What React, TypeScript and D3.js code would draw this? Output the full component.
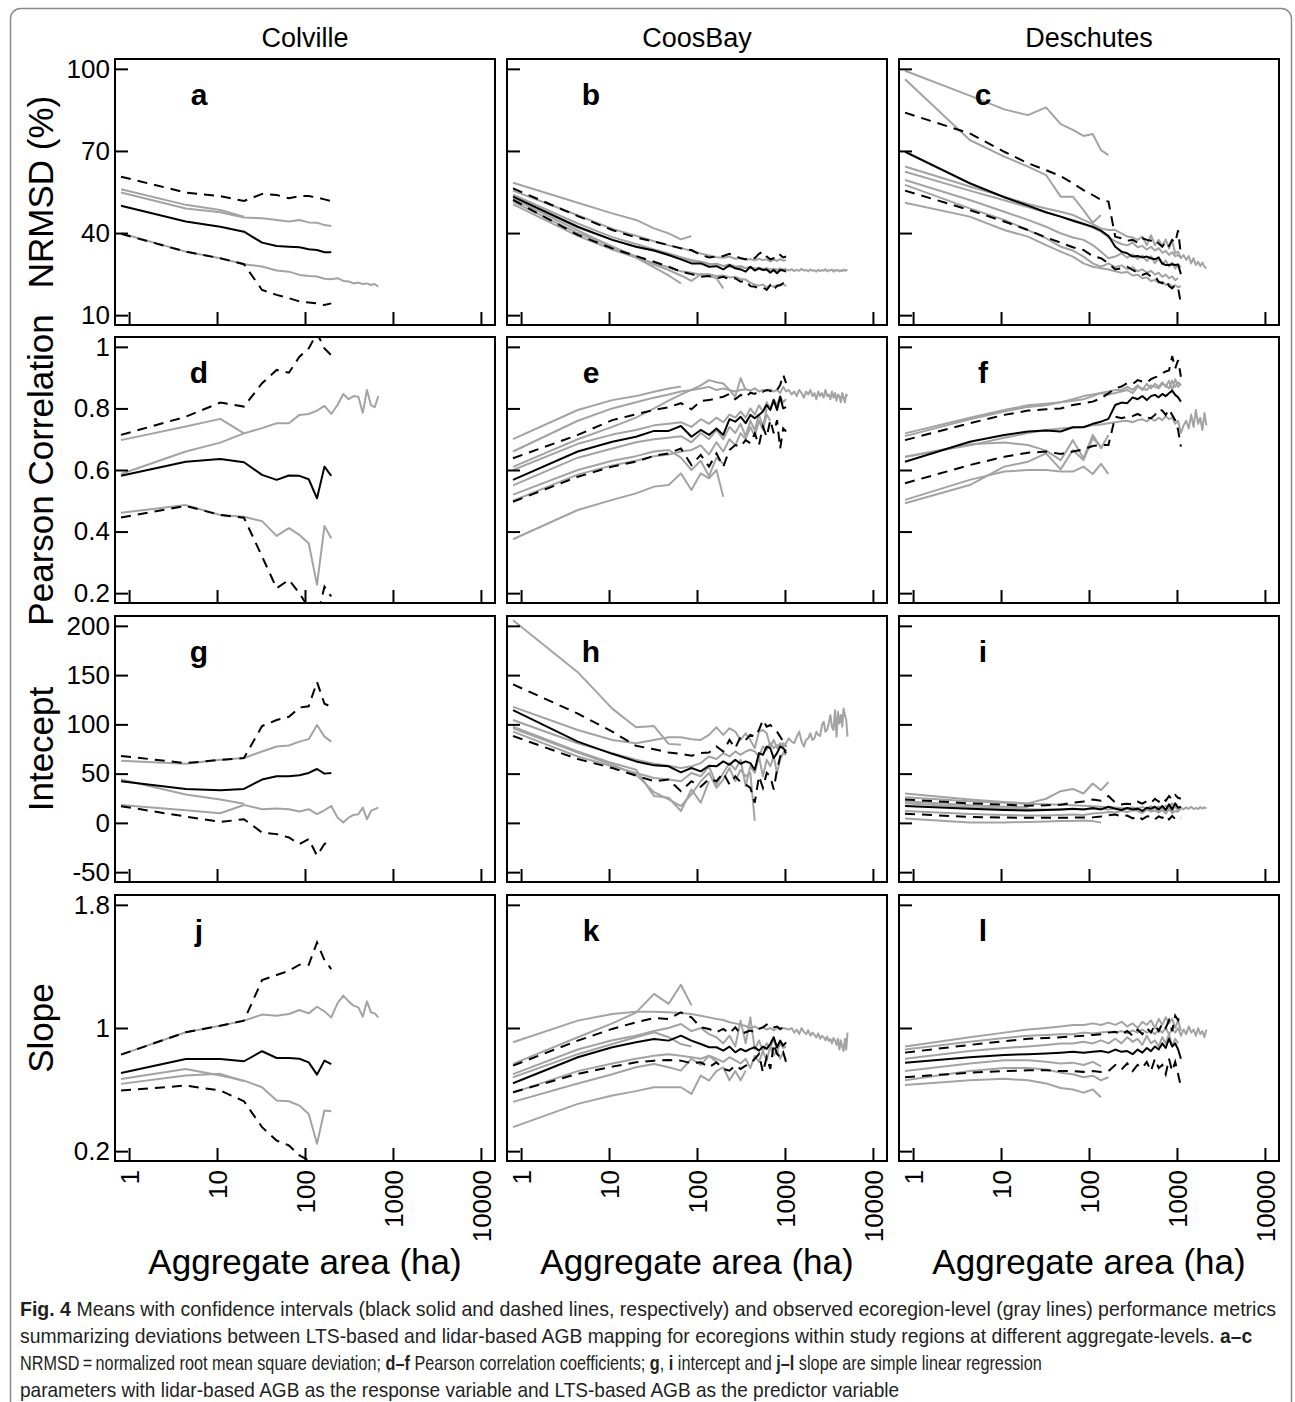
import { useEffect, useRef } from 'react';
import * as d3 from 'd3';

// aggregate areas (ha) for the window sizes 3, 7, 11, ... 239 pixels
const AREA = [0.81, 4.41, 10.89, 20.25, 32.49, 47.61, 65.61, 86.49, 110.25, 136.89, 166.41, 198.81, 234.09, 272.25, 313.29, 357.21, 404.01, 453.69, 506.25, 561.69, 620.01, 681.21, 745.29, 812.25, 882.09, 954.81, 1030.41, 1108.89, 1190.25, 1274.49, 1361.61, 1451.61, 1544.49, 1640.25, 1738.89, 1840.41, 1944.81, 2052.09, 2162.25, 2275.29, 2391.21, 2510.01, 2631.69, 2756.25, 2883.69, 3014.01, 3147.21, 3283.29, 3422.25, 3564.09, 3708.81, 3856.41, 4007.61, 4160.25, 4316.49, 4475.61, 4637.61, 4802.49, 4970.25, 5140.89];

const REGIONS = ['Colville', 'CoosBay', 'Deschutes'];
const METRICS = ['NRMSD (%)', 'Pearson Correlation', 'Intecept', 'Slope'];
const Y_TICKS = [[10, 40, 70, 100], [0.2, 0.4, 0.6, 0.8, 1], [-50, 0, 50, 100, 150, 200], [0.2, 1, 1.8]];
const X_TICKS = [1, 10, 100, 1000, 10000];
const LETTERS = ['a', 'b', 'c', 'd', 'e', 'f', 'g', 'h', 'i', 'j', 'k', 'l'];

// ---- Colville ----
const aMean = [50, 44.2, 42.3, 40.5, 36.5, 35.3, 35, 34.8, 34.1, 33.8, 33, 33];
const aUpper = [60.6, 54.8, 53.5, 51.7, 54.3, 53.9, 52.7, 53.5, 53.5, 53, 52.3, 51.7];
const aLower = [39.7, 33.2, 30.8, 28.6, 19.2, 17.4, 16.2, 15, 14.6, 14.3, 13.7, 14.3];
const aGray = [
  [56, 50.3, 48.4, 46],
  [54.8, 49, 47.6, 45.7, 45.4, 44.8, 44.2, 44.8, 43.9, 43.8, 42.9, 42.6],
  [39.9, 33.2, 30.8, 28.6, 27.8, 26.3, 25.9, 24.7, 24.3, 24.1, 23.3, 23.1, 23.5, 22.5, 22.3, 21.6, 21.9, 21.4, 21.6, 21, 21.4, 20.4],
];
const dMean = [0.581, 0.627, 0.636, 0.625, 0.584, 0.568, 0.582, 0.581, 0.57, 0.508, 0.611, 0.581];
const dUpper = [0.714, 0.773, 0.819, 0.806, 0.882, 0.925, 0.916, 0.968, 0.995, 1.044, 0.995, 0.973];
const dLower = [0.446, 0.483, 0.454, 0.445, 0.319, 0.216, 0.243, 0.2, 0.151, 0.12, 0.221, 0.189];
const dGray = [
  [0.697, 0.741, 0.766, 0.719],
  [0.461, 0.486, 0.454, 0.448, 0.434, 0.386, 0.411, 0.389, 0.362, 0.227, 0.418, 0.378],
  [0.587, 0.66, 0.689, 0.719, 0.736, 0.752, 0.752, 0.779, 0.782, 0.793, 0.808, 0.782, 0.811, 0.847, 0.83, 0.84, 0.838, 0.786, 0.86, 0.811, 0.804, 0.84],
];
const gMean = [42.3, 34.5, 33.2, 34.5, 44, 47.3, 47.3, 48.3, 50.7, 54.7, 50, 50.7];
const gUpper = [68, 60.7, 64, 65.8, 98.3, 104.4, 107.7, 117.1, 118.4, 143, 121, 117.8];
const gLower = [17, 6.4, 1, 3.7, -9.8, -11.4, -14.8, -21.5, -16.5, -33.2, -21.5, -17];
const gGray = [
  [44, 28.9, 23.8, 19.4],
  [63, 60, 64, 65.8, 72.5, 77.5, 78.5, 82.5, 85, 99.3, 87.6, 82.5],
  [18.2, 12.8, 9.8, 18.2, 13.9, 14.6, 13.9, 11.5, 13.9, 8.8, 12.8, 17.2, 5.4, 0.4, 5.4, 8.1, 8.8, 15.5, 3.7, 12.1, 13.9, 15.5],
];
const jMean = [0.708, 0.799, 0.799, 0.784, 0.849, 0.805, 0.805, 0.8, 0.777, 0.697, 0.788, 0.766];
const jUpper = [0.827, 0.972, 1.015, 1.048, 1.311, 1.344, 1.372, 1.411, 1.411, 1.556, 1.441, 1.383];
const jLower = [0.594, 0.626, 0.594, 0.524, 0.356, 0.269, 0.237, 0.172, 0.14, 0.1];
const jGray = [
  [0.637, 0.691, 0.702, 0.654],
  [0.669, 0.734, 0.691, 0.658, 0.615, 0.529, 0.524, 0.496, 0.442, 0.248, 0.464, 0.459],
  [0.827, 0.972, 1.015, 1.048, 1.087, 1.08, 1.091, 1.117, 1.095, 1.138, 1.108, 1.069, 1.16, 1.21, 1.173, 1.145, 1.134, 1.074, 1.173, 1.102, 1.095, 1.069],
];

// ---- CoosBay ----
const bMean = [53.3, 42.3, 37.5, 35, 33.6, 32, 30.4, 28.9, 28.9, 27.7, 27.9, 26.7, 28.3, 27.1, 26.7, 25.9, 27.7, 26.3, 27.1, 26.5, 26.7, 25.5, 26.5, 25.3, 26.5, 26.3, 25.9];
const bUpper = [56.3, 46.2, 41.1, 38.4, 36.9, 35.6, 34.4, 33.8, 32, 31.1, 31.4, 31.6, 32.4, 31.6, 30.8, 30.4, 31.1, 30.8, 32.4, 33.2, 31.4, 30.4, 30.8, 30.4, 32, 31.1, 31.4];
const bLower = [52.1, 39.3, 34.4, 31.6, 29.5, 27.7, 25.9, 25, 24, 24.3, 23.5, 24, 23.1, 23.5, 22.2, 22.6, 20.6, 20.4, 19.8, 20.2, 19.2, 21, 19.4, 20.6, 21, 21.6, 19.8];
const bGray = [
  [58.4, 51.1, 47.2, 44.8, 41.7, 39.9, 37.7, 38.9],
  [55.5, 46.5, 41.5, 39, 37, 35.5, 34.5, 33.5, 32.5, 31.8, 31.2, 31, 31.4, 30.6, 30.9, 30.2, 30.5, 30, 30.6, 30.1, 30.4, 29.6, 30.3, 29.8, 30.5, 29.9, 30.2],
  [54, 43.5, 38.5, 36, 34, 32.5, 31.2, 30.2, 29.5, 28.8, 28.5, 28, 27.8, 27.5, 27.6, 27.1, 27.3, 26.9, 27.2, 26.7, 27, 26.6, 26.9, 26.4, 26.8, 26.5, 26.7,
    26.3, 26.8, 26.1, 26.6, 26.2, 26.9, 26.3, 26.5, 26, 26.7, 26.2, 26.4, 25.9, 26.6, 26.1, 26.5, 26.2, 26.8, 26, 26.4, 26.3, 26.7, 25.9, 26.5, 26.2, 26.6, 26, 26.4, 26.1, 26.7, 26.2, 26.5, 26.3],
  [52.5, 41, 35, 31, 27.5, 24.5, 21.6],
  [51.5, 40, 35, 31.5, 28.5, 26.5, 24.5, 22.5, 25, 24.3, 23.5, 19.8],
  [50.5, 39, 34, 31, 29, 27.5, 26, 25.5, 24.8, 25, 24.3, 24.5, 23.8, 24, 23.2, 23, 21.8, 21.2, 20.8, 21.2, 20.2, 20.8, 20.4, 21, 20.8, 21.5, 20.6],
  [53, 42, 37.5, 35, 33.5, 32, 30.6, 29.8, 29.5, 28.6, 28.8, 28, 28.5, 27.8, 28, 27.2, 27.6, 27, 27.4, 26.8, 27.2, 26.5, 27, 26.6, 27.1, 26.7, 27],
];
const eMean = [0.568, 0.66, 0.692, 0.708, 0.727, 0.727, 0.743, 0.708, 0.73, 0.714, 0.735, 0.714, 0.765, 0.757, 0.773, 0.752, 0.779, 0.768, 0.779, 0.79, 0.811, 0.795, 0.827, 0.795, 0.838, 0.8, 0.804];
const eUpper = [0.638, 0.714, 0.762, 0.781, 0.795, 0.804, 0.817, 0.797, 0.824, 0.827, 0.833, 0.838, 0.847, 0.83, 0.844, 0.836, 0.851, 0.847, 0.858, 0.854, 0.86, 0.857, 0.851, 0.86, 0.876, 0.909, 0.882];
const eLower = [0.497, 0.578, 0.611, 0.627, 0.646, 0.654, 0.67, 0.616, 0.649, 0.611, 0.654, 0.611, 0.665, 0.681, 0.676, 0.697, 0.687, 0.719, 0.681, 0.741, 0.708, 0.762, 0.719, 0.762, 0.67, 0.735, 0.725];
const eGray = [
  [0.7, 0.795, 0.827, 0.84, 0.854, 0.865, 0.871],
  [0.66, 0.76, 0.8, 0.82, 0.835, 0.845, 0.855, 0.86, 0.865, 0.87, 0.86, 0.865, 0.86, 0.855, 0.86, 0.862, 0.858, 0.865, 0.855, 0.86, 0.858, 0.862, 0.855, 0.86, 0.85, 0.87, 0.855,
    0.86, 0.845, 0.855, 0.84, 0.86, 0.85, 0.835, 0.855, 0.845, 0.86, 0.84, 0.85, 0.83, 0.855, 0.84, 0.85, 0.835, 0.86, 0.84, 0.845, 0.83, 0.855, 0.835, 0.85, 0.825, 0.845, 0.84, 0.82, 0.85, 0.835, 0.82, 0.845, 0.84],
  [0.61, 0.7, 0.74, 0.77, 0.8, 0.825, 0.845, 0.86, 0.875, 0.892, 0.885, 0.881, 0.86, 0.838, 0.898, 0.86],
  [0.6, 0.685, 0.715, 0.73, 0.745, 0.75, 0.755, 0.74, 0.765, 0.75, 0.77, 0.755, 0.78, 0.77, 0.79, 0.77, 0.8, 0.78, 0.81, 0.79, 0.82, 0.8, 0.83, 0.81, 0.84, 0.82, 0.83],
  [0.55, 0.64, 0.67, 0.69, 0.7, 0.705, 0.71, 0.69, 0.72, 0.7, 0.73, 0.7, 0.74, 0.72, 0.75, 0.71, 0.76, 0.73, 0.78, 0.74, 0.8],
  [0.52, 0.6, 0.63, 0.645, 0.66, 0.665, 0.64, 0.6, 0.63, 0.58, 0.64, 0.62],
  [0.5, 0.585, 0.615, 0.63, 0.645, 0.65, 0.66, 0.665, 0.68, 0.65, 0.69, 0.66, 0.7, 0.68, 0.72, 0.7, 0.74, 0.71, 0.76, 0.73, 0.78, 0.76],
  [0.375, 0.47, 0.503, 0.524, 0.546, 0.551, 0.589, 0.535, 0.589, 0.573, 0.6, 0.513],
];
const hMean = [114.4, 82.5, 70.1, 62.4, 58.4, 57.4, 51.3, 55.7, 52.3, 58, 57.4, 62.4, 59, 64.1, 60, 62.4, 60.7, 54, 70.8, 69.1, 77.5, 75.8, 65.8, 70.8, 77.5, 75.8, 72.5];
const hUpper = [140.6, 111, 92.6, 78.2, 74.8, 71.5, 70.1, 68.1, 70.8, 71.5, 77.5, 72.5, 84.2, 75.8, 87.6, 84.2, 89.3, 87.6, 94.3, 104.4, 97.6, 99.3, 96, 92.6, 87.6, 82.5, 77.5];
const hLower = [88.2, 64.8, 55.7, 48, 42.3, 44, 32.2, 42.3, 36.6, 44.6, 42.3, 50.7, 39, 47.3, 41.3, 39, 35.6, 20.5, 47.3, 35.6, 50.7, 47.3, 33.9, 54, 67.4, 74.2, 70.8];
const hGray = [
  [205.7, 153, 116, 97, 98.3, 80.2, 79.2],
  [117.8, 94.3, 84.2, 80.9, 84.2, 86.9, 86.9, 84.9, 84.2, 89.3, 97, 89.3, 96, 92.6, 84.2, 90.9, 84.2, 75.8, 92.6, 94.3, 90.9, 77.5, 84.2, 75.8, 80.9, 77.5, 80.9,
    85.9, 82.5, 80.9, 87.6, 92.6, 82.5, 77.5, 84.2, 85.9, 90.9, 84.2, 85.9, 92.6, 89.3, 88.2, 99.3, 102.7, 92.6, 94.3, 101, 109.4, 97.6, 94.3, 114.4, 87.6, 112.7, 101, 109.4, 97.6, 116.1, 109.4, 104.4, 87.6],
  [97.6, 72.5, 60.7, 54, 27.2, 25.5, 12.1, 33.9, 20.5, 42.3],
  [96, 71.5, 59, 49, 31.2, 23.8, 17.1, 28.9, 42.3, 50.7, 35.6, 44, 55.7, 42.3, 54, 47.3, 50.7, 2],
  [104.4, 80.9, 70.8, 64.1, 60, 58, 55.7, 57.4, 60.7, 67.4, 64.8, 70.8, 67.4, 72.5, 69.1, 72.5, 74.2, 72.5, 67.4, 77.5, 74.2, 80.9, 75.8, 79.2, 77.5, 80.9, 78.2],
  [92.6, 67.4, 57.4, 50.7, 45.6, 44, 42.3, 50.7, 47.3, 57.4, 39, 50.7, 60.7, 54, 64.1, 37.3, 57.4, 50.7, 67.4, 47.3, 64.1, 57.4, 67.4, 50.7, 64.1, 70.8, 69.1],
];
const kMean = [0.641, 0.81, 0.875, 0.907, 0.929, 0.918, 0.95, 0.918, 0.896, 0.875, 0.875, 0.853, 0.879, 0.842, 0.864, 0.849, 0.864, 0.875, 0.853, 0.879, 0.864, 0.896, 0.94, 0.875, 0.918, 0.885, 0.907];
const kUpper = [0.756, 0.918, 0.994, 1.037, 1.065, 1.058, 1.102, 1.069, 1.004, 0.994, 0.972, 0.994, 0.965, 1.004, 0.961, 0.972, 0.983, 0.972, 0.994, 1.004, 1.022, 1, 1.004, 1.009, 0.994, 1.004, 0.994];
const kLower = [0.583, 0.702, 0.749, 0.777, 0.788, 0.792, 0.788, 0.771, 0.777, 0.745, 0.777, 0.734, 0.723, 0.756, 0.734, 0.756, 0.766, 0.799, 0.831, 0.712, 0.81, 0.734, 0.896, 0.831, 0.81, 0.842, 0.777];
const kGray = [
  [0.767, 0.94, 1.03, 1.1, 1.222, 1.157, 1.281, 1.147],
  [0.907, 1.048, 1.091, 1.106, 1.106, 1.102, 1.097, 1.091, 1.08, 1.069, 1.058, 1.052, 1.037, 1.03, 1.022, 1.013, 1, 1.01, 0.995, 1.005, 0.99, 1, 0.985, 1, 0.99, 1, 0.995,
    0.99, 1, 0.97, 0.99, 0.96, 1, 0.975, 0.96, 0.985, 0.95, 0.97, 0.955, 0.94, 0.965, 0.93, 0.95, 0.94, 0.92, 0.945, 0.915, 0.93, 0.9, 0.935, 0.92, 0.89, 0.93, 0.86, 0.92, 0.88, 0.85, 0.93, 0.86, 0.97],
  [0.7, 0.86, 0.92, 0.95, 0.98, 1, 1.026, 0.98, 1, 0.96, 0.94, 0.9, 0.95, 0.88, 1.048, 0.9, 1.069, 0.86, 0.92, 0.85, 0.9, 0.87, 0.93, 0.85, 0.9, 0.87, 0.88],
  [0.68, 0.83, 0.896, 0.94, 0.972, 0.94, 0.896, 0.88],
  [0.58, 0.72, 0.77, 0.8, 0.82, 0.83, 0.82, 0.81, 0.8, 0.82, 0.8, 0.78, 0.81, 0.79, 0.77, 0.8, 0.74, 0.82, 0.78, 0.85, 0.79, 0.88, 0.82, 0.86, 0.8, 0.84, 0.79],
  [0.356, 0.507, 0.561, 0.59, 0.615, 0.615, 0.615, 0.572, 0.691, 0.658, 0.72, 0.745, 0.66, 0.72, 0.66, 0.723],
  [0.52, 0.64, 0.7, 0.745, 0.766, 0.745, 0.723, 0.8, 0.76, 0.82, 0.78],
];

// ---- Deschutes ----
const cMean = [69.7, 58.2, 53.1, 50, 47.6, 46, 44.5, 43.3, 42.3, 40.9, 38.9, 35, 33.2, 32.6, 31.4, 31.6, 31.1, 31.4, 30.8, 30.4, 31.1, 28.9, 28.3, 28.3, 28.6, 28.3, 28.5, 25];
const cUpper = [84, 76.4, 69.7, 65.5, 63, 60.8, 58.2, 55.7, 53.9, 52.1, 51.5, 38.7, 38.1, 37.2, 37.5, 36.5, 38.1, 37.5, 37.2, 37.7, 36.2, 35, 36.9, 35.3, 37.5, 36.5, 41, 32];
const cLower = [55.5, 48.4, 44.2, 41.1, 38.4, 36.5, 34.8, 33.8, 31.6, 30.8, 28.9, 26.7, 27.1, 27.7, 26.5, 25.5, 24.7, 25.3, 24.1, 24.3, 22.2, 21.6, 22.8, 20.6, 19.8, 21, 19.8, 14.3];
const cGray = [
  [99.3, 90.2, 85.2, 83.1, 85.9, 79.8, 77.7, 75.5, 76.2, 70.3, 68.5],
  [96.2, 74, 67.9, 64.3, 61.2, 53.3, 53.3, 48.4, 43.8, 46.6],
  [64.3, 57, 53.3, 50.6, 49, 47.8, 46.6, 44.8, 43.3, 41.7, 41.1, 41.1, 39.9, 38.7, 38.4, 37.5, 38.7, 35.6, 39.2, 35.6, 37.5, 35.3, 37.7, 34.4, 37.2, 32.6, 33.2, 30.8, 32, 30.2, 31.6, 28.9, 30.8, 28.3, 29.5, 27.9, 29.2, 27.7, 27.1],
  [62.4, 55.5, 52, 49.5, 47.5, 46, 44.8, 43.5, 42, 40.5, 38.5, 37, 36, 35.5, 36.5, 34.8, 35.3, 34, 35, 33.6, 34.5, 32.8, 33.5, 32, 33, 31.5, 32, 31],
  [59.4, 52.1, 47.8, 44.8, 42.3, 39.9, 38.4, 37.5, 35.6, 33.2, 30.8, 31.4, 32.6, 31, 32.2, 30.5, 31.8, 29.8, 31.5, 29, 30.6, 28.5, 30, 27.8, 29.2, 27, 28.5, 27.5],
  [57.6, 49, 44.8, 41.1, 38.1, 35, 33.6, 31.4, 28.9, 27.7, 28.9, 27.5, 28.2, 26.8, 27.5, 26, 26.8, 25.5, 26.2, 24.8, 25.5, 24, 24.8, 23.5, 24.2, 22.8, 23.5],
  [51.1, 46, 41.1, 38.7, 35.6, 33.2, 31.4, 28.9, 27.7, 27.1, 26.7, 26, 25.5, 25.8, 24.5, 24.8, 23.5, 23.8, 22.5, 22.9, 21.8, 22.2, 21, 21.5, 20.5, 21, 20.2, 20.6],
];
const fMean = [0.627, 0.692, 0.714, 0.725, 0.728, 0.725, 0.739, 0.739, 0.75, 0.757, 0.766, 0.811, 0.819, 0.817, 0.836, 0.83, 0.84, 0.827, 0.84, 0.844, 0.836, 0.847, 0.84, 0.849, 0.858, 0.844, 0.836, 0.822];
const fUpper = [0.697, 0.752, 0.779, 0.793, 0.797, 0.8, 0.811, 0.817, 0.822, 0.833, 0.849, 0.865, 0.871, 0.882, 0.879, 0.892, 0.887, 0.884, 0.895, 0.901, 0.905, 0.914, 0.92, 0.923, 0.97, 0.93, 0.957, 0.903];
const fLower = [0.557, 0.616, 0.643, 0.656, 0.66, 0.652, 0.66, 0.667, 0.678, 0.681, 0.681, 0.773, 0.768, 0.773, 0.775, 0.782, 0.775, 0.771, 0.768, 0.779, 0.797, 0.793, 0.779, 0.797, 0.779, 0.762, 0.73, 0.676];
const fGray = [
  [0.719, 0.77, 0.795, 0.81, 0.815, 0.82, 0.83, 0.84, 0.845, 0.85, 0.855, 0.86, 0.86, 0.87, 0.86, 0.875, 0.86, 0.88, 0.865, 0.88, 0.87, 0.885, 0.87, 0.89, 0.86, 0.895, 0.87, 0.88],
  [0.71, 0.765, 0.79, 0.805, 0.81, 0.82, 0.825, 0.83, 0.84, 0.85, 0.845, 0.85, 0.855, 0.86, 0.85, 0.87, 0.865, 0.86, 0.875, 0.87, 0.865, 0.88, 0.875, 0.865, 0.89, 0.87, 0.885, 0.875],
  [0.643, 0.68, 0.705, 0.72, 0.73, 0.735, 0.738, 0.74, 0.745, 0.748, 0.752, 0.755, 0.758, 0.76, 0.755, 0.762, 0.765, 0.758, 0.768, 0.76, 0.77, 0.762, 0.775, 0.765, 0.77, 0.75, 0.76, 0.72, 0.745, 0.76, 0.735, 0.78, 0.74, 0.795, 0.75, 0.77, 0.73, 0.785, 0.745],
  [0.642, 0.684, 0.689, 0.681, 0.663, 0.632, 0.697, 0.638, 0.714, 0.671, 0.714],
  [0.503, 0.568, 0.595, 0.6, 0.6, 0.595, 0.595, 0.611, 0.587, 0.62, 0.587],
  [0.492, 0.551, 0.611, 0.627, 0.654, 0.602, 0.665, 0.632, 0.703, 0.676],
];
const iMean = [17.1, 14.4, 13.1, 12.7, 13.1, 13.7, 14.4, 13.7, 15.1, 13.7, 16.4, 14.4, 13.1, 15.1, 13.7, 14.4, 12.1, 15.4, 14.4, 16.4, 13.7, 17.1, 13.1, 18.8, 13.7, 19.8, 15.4, 16.4];
const iUpper = [23.8, 19.8, 18.5, 17.5, 17.8, 18.5, 20.5, 21.8, 23.8, 22.5, 27.2, 20.5, 18.8, 19.5, 18.8, 21.5, 19.5, 22.1, 20.2, 24.5, 21.5, 25.5, 22.5, 27.2, 23.8, 28.2, 25.5, 24.5];
const iLower = [9.4, 6, 5.4, 5.2, 5.2, 5.2, 5.4, 5.4, 5.6, 6.5, 7.7, 8.5, 6.5, 7.5, 4.5, 7, 3.7, 6.5, 7, 3.7, 6.5, 5, 8, 3.5, 7, 4, 6.5, 5.4];
const iGray = [
  [29.8, 23.8, 21.1, 19.8, 24.5, 32.2, 34.5, 29.8, 40, 33.2, 41.3],
  [26, 22, 20.5, 19.5, 19, 18.5, 18, 17.5, 17, 16.5, 16, 15.5, 15, 14.8, 15.6, 14.5, 16, 14.8, 17, 15, 16.5, 14, 17.5, 15.2, 19.8, 16, 14.5, 15.5, 13.8, 15.8, 14.2, 16.5, 14, 15.2, 13.9, 16.2, 14.5, 15.8, 14.6],
  [4.4, 0.3, 0.5, 1, 1.5, 2, 2, 2.5, 1.8, 0.5],
  [20, 16, 14.5, 13.8, 13.5, 13.6, 13.8, 14, 14.2, 14.5, 13.6, 15, 13.5, 14.8, 12.5, 15.5, 11.5, 14.5, 12, 15.8, 11, 16, 12.5, 17, 11.2, 18, 12, 14],
  [12, 9, 8, 7.5, 7.5, 8, 8.5, 8, 9.5, 10, 11, 10.5, 12, 11, 13, 12, 10, 13.5, 11.5, 12.5, 10.5, 13, 9.5, 14, 10, 12, 11],
  [22, 18, 16.5, 16],
];
const lMean = [0.775, 0.81, 0.825, 0.83, 0.835, 0.84, 0.845, 0.84, 0.845, 0.85, 0.84, 0.86, 0.845, 0.85, 0.83, 0.86, 0.84, 0.87, 0.85, 0.88, 0.86, 0.9, 0.87, 0.93, 0.88, 0.9, 0.86, 0.8];
const lUpper = [0.84, 0.89, 0.915, 0.93, 0.935, 0.94, 0.945, 0.95, 0.955, 0.96, 0.97, 0.975, 0.96, 0.98, 0.95, 0.99, 0.96, 1, 0.97, 1.02, 0.98, 1.03, 1, 1.05, 0.98, 1.08, 1.05, 1.1];
const lLower = [0.68, 0.71, 0.72, 0.725, 0.725, 0.72, 0.72, 0.715, 0.72, 0.715, 0.72, 0.76, 0.73, 0.77, 0.72, 0.76, 0.74, 0.78, 0.72, 0.8, 0.74, 0.76, 0.7, 0.8, 0.72, 0.78, 0.7, 0.62];
const lGray = [
  [0.88, 0.94, 0.97, 0.99, 1, 1.01, 1.02, 1.02, 1.03, 1.02, 1.035, 1.02, 1.04, 1.01, 1.03, 1, 1.04, 1.02, 1.05, 1, 1.06, 1.02, 1.07, 1.03, 1.06, 1, 1.05, 0.98],
  [0.86, 0.91, 0.935, 0.95, 0.955, 0.96, 0.96, 0.97, 0.965, 0.97, 0.975, 0.97, 0.98, 0.965, 0.985, 0.97, 0.99, 0.97, 0.98, 0.96, 0.99, 0.97, 1, 0.96, 0.99, 0.97, 1, 0.95, 0.99, 0.96, 1.01, 0.97, 0.99, 0.95, 1, 0.96, 0.98, 0.94, 0.99],
  [0.72, 0.77, 0.79, 0.79, 0.78, 0.77, 0.775, 0.76, 0.78, 0.75],
  [0.66, 0.72, 0.74, 0.74, 0.73, 0.71, 0.7, 0.68, 0.69, 0.66, 0.68],
  [0.63, 0.66, 0.67, 0.66, 0.64, 0.61, 0.6, 0.58, 0.6, 0.55],
  [0.8, 0.85, 0.87, 0.88, 0.89, 0.9, 0.9, 0.91, 0.9, 0.92, 0.9, 0.93, 0.9, 0.94, 0.91, 0.93, 0.89, 0.95, 0.9, 0.92, 0.88, 0.94, 0.9, 0.96, 0.88, 0.93, 0.9],
];

const MEANS = [aMean, bMean, cMean, dMean, eMean, fMean, gMean, hMean, iMean, jMean, kMean, lMean];
const UPPERS = [aUpper, bUpper, cUpper, dUpper, eUpper, fUpper, gUpper, hUpper, iUpper, jUpper, kUpper, lUpper];
const LOWERS = [aLower, bLower, cLower, dLower, eLower, fLower, gLower, hLower, iLower, jLower, kLower, lLower];
const GRAYS = [aGray, bGray, cGray, dGray, eGray, fGray, gGray, hGray, iGray, jGray, kGray, lGray];

const CAPTION = [
  [['Fig. 4', true], ['  Means with confidence intervals (black solid and dashed lines, respectively) and observed ecoregion-level (gray lines) performance metrics', false]],
  [['summarizing deviations between LTS-based and lidar-based AGB mapping for ecoregions within study regions at different aggregate-levels. ', false], ['a\u2013c', true]],
  [['NRMSD\u2009=\u2009normalized root mean square deviation; ', false], ['d\u2013f', true], [' Pearson correlation coefficients; ', false], ['g', true], [', ', false], ['i', true], [' intercept and ', false], ['j\u2013l', true], [' slope are simple linear regression', false]],
  [['parameters with lidar-based AGB as the response variable and LTS-based AGB as the predictor variable', false]],
];
// measured widths of the four caption lines
const CAPTION_WIDTH = [1257, 1233, 1022, 880];

const W = 1295;
const H = 1402;
const COL_X = [115, 507, 899];
const ROW_Y = [59, 337, 616, 895];
const PW = 380;
const PH = 266;
const FONT = "'Liberation Sans', Arial, Helvetica, sans-serif";
const GRAY = '#a3a3a3';

export default function App() {
  const svgRef = useRef<SVGSVGElement>(null);

  useEffect(() => {
    const svg = d3.select(svgRef.current);
    svg.selectAll('*').remove();

    svg.append('rect').attr('width', W).attr('height', H).attr('fill', '#fff');
    svg.append('rect')
      .attr('x', 10.5).attr('y', 8.5).attr('width', 1281).attr('height', 1440).attr('rx', 10)
      .attr('fill', 'none').attr('stroke', '#8a8a8a').attr('stroke-width', 1.5);

    const x = d3.scaleLog().domain([10 ** -0.16, 10 ** 4.16]).range([0, PW]);

    LETTERS.forEach((letter, k) => {
      const row = Math.floor(k / 3);
      const col = k % 3;
      const ticks = Y_TICKS[row];
      const lo = ticks[0];
      const hi = ticks[ticks.length - 1];
      const pad = (hi - lo) * 0.04;
      const y = d3.scaleLinear().domain([lo - pad, hi + pad]).range([PH, 0]);

      const g = svg.append('g').attr('transform', `translate(${COL_X[col]},${ROW_Y[row]})`);
      const clipId = `clip-${letter}`;
      g.append('clipPath').attr('id', clipId).append('rect').attr('width', PW).attr('height', PH);
      const plot = g.append('g').attr('clip-path', `url(#${clipId})`);

      const line = d3.line<number>().x((_, i) => x(AREA[i])).y(v => y(v));

      GRAYS[k].forEach(s => {
        plot.append('path').attr('d', line(s)).attr('fill', 'none')
          .attr('stroke', GRAY).attr('stroke-width', 2).attr('stroke-linejoin', 'round');
      });
      [LOWERS[k], UPPERS[k]].forEach(s => {
        plot.append('path').attr('d', line(s)).attr('fill', 'none')
          .attr('stroke', '#000').attr('stroke-width', 2).attr('stroke-dasharray', '10,7');
      });
      plot.append('path').attr('d', line(MEANS[k])).attr('fill', 'none')
        .attr('stroke', '#000').attr('stroke-width', 2).attr('stroke-linejoin', 'round');

      // y axis (ticks inward)
      const ya = g.append('g').call(
        d3.axisLeft(y).tickValues(ticks).tickSizeInner(-13).tickSizeOuter(0).tickPadding(5)
          .tickFormat(d => (col === 0 ? String(d) : ''))
      );
      ya.select('.domain').remove();
      ya.selectAll('line').attr('stroke', '#000').attr('stroke-width', 2);
      ya.selectAll('text').attr('font-size', 26).attr('font-family', FONT).attr('fill', '#000');

      // x axis (ticks inward)
      const xa = g.append('g').attr('transform', `translate(0,${PH})`).call(
        d3.axisBottom(x).tickValues(X_TICKS).tickSizeInner(-13).tickSizeOuter(0)
          .tickFormat(d => (row === 3 ? String(d) : ''))
      );
      xa.select('.domain').remove();
      xa.selectAll('line').attr('stroke', '#000').attr('stroke-width', 2);
      xa.selectAll('text')
        .attr('font-size', 26).attr('font-family', FONT).attr('fill', '#000')
        .attr('transform', 'rotate(-90)').attr('x', -9).attr('y', 0).attr('dy', '0.36em')
        .attr('text-anchor', 'end');

      g.append('rect').attr('width', PW).attr('height', PH).attr('fill', 'none')
        .attr('stroke', '#000').attr('stroke-width', 2);

      g.append('text').attr('x', 84).attr('y', 46).attr('text-anchor', 'middle')
        .attr('font-family', FONT).attr('font-weight', 'bold').attr('font-size', 30)
        .text(letter);
    });

    REGIONS.forEach((name, col) => {
      svg.append('text').attr('x', COL_X[col] + PW / 2).attr('y', 47).attr('text-anchor', 'middle')
        .attr('font-family', FONT).attr('font-size', 27).text(name);
      svg.append('text').attr('x', COL_X[col] + PW / 2).attr('y', 1274).attr('text-anchor', 'middle')
        .attr('font-family', FONT).attr('font-size', 35).text('Aggregate area (ha)');
    });

    METRICS.forEach((name, row) => {
      svg.append('text')
        .attr('transform', `translate(40,${ROW_Y[row] + PH / 2}) rotate(-90)`)
        .attr('text-anchor', 'middle').attr('dominant-baseline', 'central')
        .attr('font-family', FONT).attr('font-size', 35).text(name);
    });

    // caption: condensed face, each line squeezed to its measured width
    CAPTION.forEach((parts, i) => {
      const t = svg.append('text')
        .attr('font-family', "'Liberation Sans Narrow', 'Liberation Sans', Arial, sans-serif")
        .attr('font-size', 20).attr('fill', '#231f20');
      parts.forEach(([txt, bold]) => {
        t.append('tspan').attr('font-weight', bold ? 'bold' : 'normal').text(txt as string);
      });
      const w = (t.node() as SVGTextElement).getComputedTextLength() || 1;
      t.attr('transform', `translate(20,${1316 + i * 27}) scale(${CAPTION_WIDTH[i] / w},1)`);
    });
  }, []);

  return (
    <div style={{ position: 'absolute', left: 0, top: 0 }}>
      <svg ref={svgRef} width={W} height={H} style={{ display: 'block' }} />
    </div>
  );
}
